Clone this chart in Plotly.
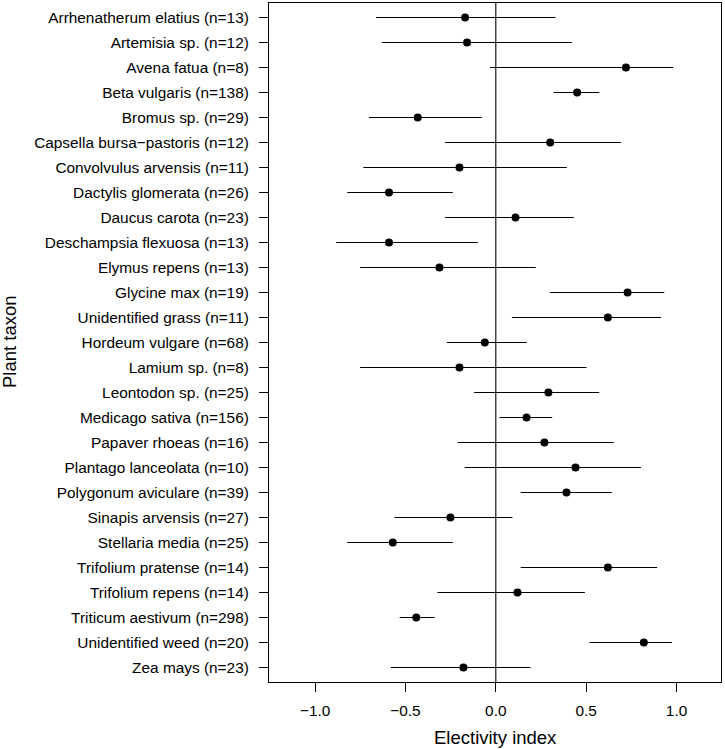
import plotly.graph_objects as go

taxa = [
    "Arrhenatherum elatius (n=13)", "Artemisia sp. (n=12)", "Avena fatua (n=8)",
    "Beta vulgaris (n=138)", "Bromus sp. (n=29)", "Capsella bursa\u2212pastoris (n=12)",
    "Convolvulus arvensis (n=11)", "Dactylis glomerata (n=26)", "Daucus carota (n=23)",
    "Deschampsia flexuosa (n=13)", "Elymus repens (n=13)", "Glycine max (n=19)",
    "Unidentified grass (n=11)", "Hordeum vulgare (n=68)", "Lamium sp. (n=8)",
    "Leontodon sp. (n=25)", "Medicago sativa (n=156)", "Papaver rhoeas (n=16)",
    "Plantago lanceolata (n=10)", "Polygonum aviculare (n=39)", "Sinapis arvensis (n=27)",
    "Stellaria media (n=25)", "Trifolium pratense (n=14)", "Trifolium repens (n=14)",
    "Triticum aestivum (n=298)", "Unidentified weed (n=20)", "Zea mays (n=23)",
]
estimate = [-0.170, -0.159, 0.720, 0.450, -0.432, 0.301, -0.201, -0.591, 0.109,
            -0.591, -0.312, 0.729, 0.620, -0.061, -0.201, 0.291, 0.170, 0.269,
            0.441, 0.391, -0.251, -0.570, 0.620, 0.120, -0.440, 0.819, -0.179]
lower = [-0.663, -0.631, -0.032, 0.319, -0.702, -0.281, -0.733, -0.822, -0.281,
         -0.883, -0.751, 0.299, 0.089, -0.271, -0.751, -0.120, 0.020, -0.212,
         -0.172, 0.138, -0.561, -0.822, 0.138, -0.323, -0.532, 0.518, -0.581]
upper = [0.330, 0.421, 0.982, 0.572, -0.078, 0.692, 0.393, -0.238, 0.432,
         -0.100, 0.221, 0.932, 0.914, 0.172, 0.502, 0.572, 0.312, 0.653,
         0.803, 0.642, 0.092, -0.238, 0.893, 0.493, -0.338, 0.975, 0.192]
x_ticks = [-1.0, -0.5, 0.0, 0.5, 1.0]
x_ticklabels = ["\u22121.0", "\u22120.5", "0.0", "0.5", "1.0"]

rows = list(range(1, len(taxa) + 1))
err_plus = [u - e for u, e in zip(upper, estimate)]
err_minus = [e - l for e, l in zip(estimate, lower)]

FONT = "Liberation Sans, Arial, sans-serif"

fig = go.Figure()
fig.add_trace(go.Scatter(
    x=estimate, y=rows, mode="markers",
    marker=dict(color="black", size=8),
    error_x=dict(type="data", symmetric=False, array=err_plus, arrayminus=err_minus,
                 color="black", thickness=1.1, width=0),
    showlegend=False, hoverinfo="skip",
))

fig.add_shape(type="line", xref="x", yref="paper", x0=0, x1=0, y0=0, y1=1,
              line=dict(color="black", width=1.1))

fig.update_layout(
    width=725, height=749,
    margin=dict(l=269, r=4, t=3, b=67),
    paper_bgcolor="white", plot_bgcolor="white",
    font=dict(family=FONT, size=15.4, color="black"),
    xaxis=dict(range=[-1.255, 1.246], tickvals=x_ticks, ticktext=x_ticklabels,
               showgrid=False, zeroline=False, showline=True, mirror=True,
               linecolor="black", linewidth=1.1, ticks="outside", ticklen=9,
               tickwidth=1.1, tickcolor="black", ticklabelstandoff=5,
               tickfont=dict(size=15.4)),
    yaxis=dict(range=[27.58, 0.42], tickvals=rows, ticktext=taxa,
               showgrid=False, zeroline=False, showline=True, mirror=True,
               linecolor="black", linewidth=1.1, ticks="outside", ticklen=9,
               tickwidth=1.1, tickcolor="black", ticklabelstandoff=7,
               tickfont=dict(size=15.4)),
    annotations=[
        dict(text="Electivity index", xref="paper", yref="paper", x=0.5,
             y=(682 - 737) / 679, xanchor="center", yanchor="middle",
             showarrow=False, font=dict(size=18.5)),
        dict(text="Plant taxon", xref="paper", yref="paper",
             x=(9 - 269) / 452, y=(682 - 342) / 679, textangle=-90,
             xanchor="center", yanchor="middle", showarrow=False,
             font=dict(size=18.5)),
    ],
)

fig.write_html("out.html", config={"displayModeBar": False},
               post_script="document.body.style.margin='0';document.body.style.overflow='hidden';")
